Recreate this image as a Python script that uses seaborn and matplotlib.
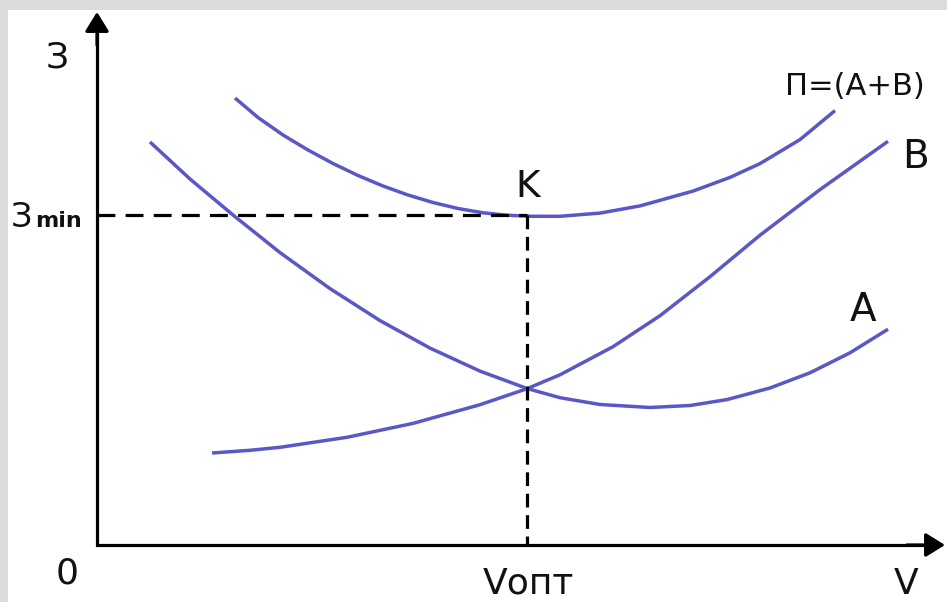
import matplotlib
matplotlib.use("Agg")
import matplotlib.pyplot as plt
from matplotlib.patches import Rectangle
import seaborn as sns

# ---- data (arbitrary units: V along x, З along y) ----
P_v = [13.8, 16.1, 18.6, 21.1, 23.6, 26.1, 28.6, 31.1, 33.6, 36.1, 38.6, 41.1,
       43.6, 46.3, 50.3, 54.3, 59.6, 63.3, 66.3, 70.3, 73.8]
P_z = [44.7, 42.75, 41.0, 39.5, 38.15, 36.95, 35.9, 35.0, 34.25, 33.65, 33.22, 32.97,
       32.87, 32.87, 33.19, 33.91, 35.39, 36.76, 38.14, 40.54, 43.44]

A_v = [5.3, 9.3, 13.6, 18.3, 23.3, 28.3, 33.3, 38.3, 43.0, 46.3, 50.3, 55.3,
       59.3, 63.0, 67.3, 71.3, 75.3, 79.1]
A_z = [40.3, 36.6, 33.0, 29.24, 25.64, 22.44, 19.69, 17.39, 15.65, 14.73, 14.05, 13.75,
       13.95, 14.54, 15.7, 17.22, 19.22, 21.58]

B_v = [11.5, 15.3, 18.3, 25.0, 31.6, 38.3, 43.0, 46.3, 51.6, 56.3, 61.3, 66.3,
       72.3, 79.1]
B_z = [9.2, 9.47, 9.77, 10.77, 12.16, 14.03, 15.63, 17.02, 19.83, 22.93, 26.83, 30.98,
       35.54, 40.37]

V_opt = 43.0
Z_min = 33.0

curve_labels = ["П=(A+B)", "B", "A", "K"]
axis_labels = ["З", "V", "0", "Vопт", "З", "min"]

# ---- style ----
sns.set_theme(style="white")
plt.rcParams["font.family"] = ["DejaVu Sans"]

curve_color = "#5a58c6"

fig = plt.figure(figsize=(9.47, 6.02), dpi=100, facecolor="#dcdcdc")
fig.patches.append(Rectangle((8 / 947, 0), 1 - 8 / 947, (602 - 10) / 602,
                             transform=fig.transFigure, facecolor="white",
                             edgecolor="none", zorder=-10))
ax = fig.add_axes([0, 0, 1, 1])
ax.set_facecolor("none")
ax.patch.set_alpha(0)
ax.set_zorder(1)
ax.set_xlim(-9.7, 85.0)
ax.set_ylim(-5.7, 54.5)
ax.axis("off")

# curves
for xs, ys in [(P_v, P_z), (A_v, A_z), (B_v, B_z)]:
    sns.lineplot(x=xs, y=ys, ax=ax, color=curve_color, linewidth=2.5,
                 sort=False, estimator=None, solid_capstyle="butt",
                 solid_joinstyle="round")

# dashed guide lines
ax.plot([0, V_opt], [Z_min, Z_min], color="black", lw=2.3,
        linestyle=(0, (5.6, 3.2)), zorder=3)
ax.plot([V_opt, V_opt], [Z_min, 0], color="black", lw=2.3,
        linestyle=(0, (4.3, 2.4)), zorder=3)

# axes with arrows
ax.plot([0, 0, 83.0], [51.5, 0, 0], color="black", lw=2.3,
        solid_joinstyle="miter", zorder=4)
arrow = dict(arrowstyle="-|>,head_length=0.42,head_width=0.26", mutation_scale=28,
             color="black", lw=2.3, shrinkA=0, shrinkB=0)
ax.annotate("", xy=(0, 53.3), xytext=(0, 50.0), arrowprops=arrow, zorder=5,
            annotation_clip=False)
ax.annotate("", xy=(84.8, 0), xytext=(81.0, 0), arrowprops=arrow, zorder=5,
            annotation_clip=False)

# labels
tk = dict(color="#111111", zorder=6)
ax.text(-4.0, 48.7, axis_labels[0], fontsize=26, ha="center", va="center", **tk)
ax.text(-8.6, 31.8, axis_labels[4], fontsize=24, ha="left", va="baseline", **tk)
ax.text(-6.2, 31.8, axis_labels[5], fontsize=16, fontweight="bold",
        ha="left", va="baseline", **tk)
ax.text(-3.0, -2.9, axis_labels[2], fontsize=26, ha="center", va="center", **tk)
ax.text(43.1, -5.6, axis_labels[3], fontsize=26, ha="center", va="bottom", **tk)
ax.text(80.9, -5.6, axis_labels[1], fontsize=26, ha="center", va="bottom", **tk)

ax.text(75.8, 45.0, curve_labels[0], fontsize=22, ha="center", va="baseline", **tk)
ax.text(81.8, 38.8, curve_labels[1], fontsize=28, ha="center", va="center", **tk)
ax.text(76.6, 23.5, curve_labels[2], fontsize=28, ha="center", va="center", **tk)
ax.text(43.1, 35.8, curve_labels[3], fontsize=27, ha="center", va="center", **tk)

fig.savefig("out.png", dpi=100, facecolor=fig.get_facecolor())
